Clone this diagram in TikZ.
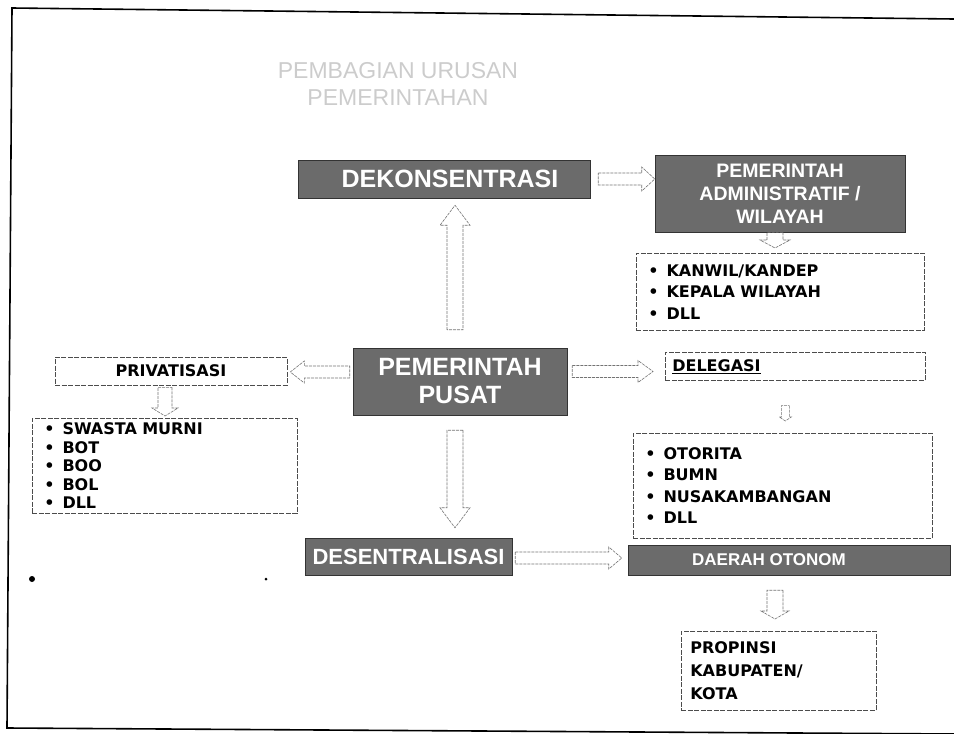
\documentclass[tikz,border=0pt]{standalone}
\usepackage{fontspec}
\setmainfont{DejaVu Sans}
\newfontfamily\bannerfont{Liberation Sans}
\usetikzlibrary{calc}

\tikzset{
  banner/.style={fill=black!58, draw=black!80, line width=0.5pt, text=white,
    font=\bannerfont\bfseries\fontsize{25}{28}\selectfont, align=center, inner sep=0pt},
  listbox/.style={draw=black!70, dash pattern=on 5pt off 1.5pt, line width=0.6pt,
    font=\bfseries\fontsize{16}{21.5}\selectfont, align=left,
    inner xsep=12pt, inner ysep=0pt, anchor=north west},
  arrowline/.style={draw=black!55, line width=0.6pt, dash pattern=on 3pt off 1pt,
    line join=miter},
  frame/.style={draw=black, line width=1.6pt},
  spot/.style={circle, fill=black, inner sep=0pt},
}

% Outlined block arrow from #1 to #2:
% #3 shaft half width, #4 head half width, #5 head length
\newcommand\hollowarrow[5]{%
  \coordinate (hbase) at ($(#2)!#5!(#1)$);
  \draw[arrowline]
    ($(#1)!#3!90:(#2)$) --
    ($(hbase)!#3!90:(#2)$) --
    ($(hbase)!#4!90:(#2)$) --
    (#2) --
    ($(hbase)!#4!-90:(#2)$) --
    ($(hbase)!#3!-90:(#2)$) --
    ($(#1)!#3!-90:(#2)$) -- cycle;}

\begin{document}
\begin{tikzpicture}[x=1pt,y=-1pt]
\useasboundingbox (0,0) rectangle (954,734);

% page frame
\draw[frame] (954,19) -- (12,8) -- (7,728) -- (954,734);

% heading
\node[font=\bannerfont\fontsize{23}{27}\selectfont, text=black!20, align=center]
  (title) at (398,84) {PEMBAGIAN URUSAN\\PEMERINTAHAN};

% shaded banners
\node[banner, minimum width=292pt, minimum height=38pt] (dek) at (444,179)
  {\hspace*{12pt}DEKONSENTRASI};
\node[banner, minimum width=250pt, minimum height=77pt,
  font=\bannerfont\bfseries\fontsize{19.5}{23}\selectfont] (adm) at (780,193.5)
  {PEMERINTAH\\ADMINISTRATIF /\\WILAYAH};
\node[banner, minimum width=214pt, minimum height=67pt] (pusat) at (460,381.5)
  {PEMERINTAH\\PUSAT};
\node[banner, minimum width=207pt, minimum height=37pt,
  font=\bannerfont\bfseries\fontsize{22}{26}\selectfont] (desent) at (408.5,556.5)
  {DESENTRALISASI};
\node[banner, minimum width=322pt, minimum height=30pt,
  font=\bannerfont\bfseries\fontsize{17}{20}\selectfont] (daerah) at (789,560)
  {\hspace*{-40pt}DAERAH OTONOM};

% dashed boxes
\node[listbox, minimum height=77pt, text width=264pt] (kanwil) at (636,253)
  {•\hspace{8pt}KANWIL/KANDEP\\•\hspace{8pt}KEPALA WILAYAH\\•\hspace{8pt}DLL};
\node[listbox, anchor=center, align=center, minimum width=232pt, minimum height=28pt]
  (priv) at (171,371) {PRIVATISASI};
\node[listbox, minimum height=28pt, inner xsep=7pt, text width=246pt] (deleg) at (665,352)
  {\underline{DELEGASI}};
\node[listbox, minimum height=95pt, text width=241pt,
  font=\bfseries\fontsize{16}{18.5}\selectfont] (swasta) at (32,418)
  {•\hspace{8pt}SWASTA MURNI\\•\hspace{8pt}BOT\\•\hspace{8pt}BOO\\•\hspace{8pt}BOL\\•\hspace{8pt}DLL};
\node[listbox, minimum height=105pt, text width=275pt] (otor) at (633,433)
  {•\hspace{8pt}OTORITA\\•\hspace{8pt}BUMN\\•\hspace{8pt}NUSAKAMBANGAN\\•\hspace{8pt}DLL};
\node[listbox, minimum height=79pt, inner xsep=9pt, text width=177pt,
  font=\bfseries\fontsize{16}{23}\selectfont] (prop) at (681,631)
  {PROPINSI\\KABUPATEN/\\KOTA};

% loose marks
\node[spot, minimum size=6pt] (m1) at (32,579) {};
\node[spot, minimum size=3pt] (m2) at (266,579) {};

% connectors
\coordinate (c1s) at ($(dek.east)+(8,0)$);
\coordinate (c1e) at (c1s -| adm.west);
\hollowarrow{c1s}{c1e}{6pt}{12pt}{13pt}

\coordinate (c2s) at ($(adm.south)+(-5,0)$);
\coordinate (c2e) at ($(c2s |- kanwil.north)+(0,-5)$);
\hollowarrow{c2s}{c2e}{8pt}{15pt}{8pt}

\coordinate (c3s) at ($(pusat.north)+(-5,-18)$);
\coordinate (c3e) at ($(c3s |- dek.south)+(0,7)$);
\hollowarrow{c3s}{c3e}{8pt}{15pt}{20pt}

\coordinate (c4s) at ($(pusat.west)+(-3,-9.5)$);
\coordinate (c4e) at ($(c4s -| priv.east)+(3,0)$);
\hollowarrow{c4s}{c4e}{6pt}{11pt}{14pt}

\coordinate (c5s) at ($(pusat.east)+(5,-10)$);
\coordinate (c5e) at ($(c5s -| deleg.west)+(-12,0)$);
\hollowarrow{c5s}{c5e}{6pt}{11pt}{15pt}

\coordinate (c6s) at ($(deleg.south)+(-10,25)$);
\coordinate (c6e) at ($(c6s |- otor.north)+(0,-12)$);
\hollowarrow{c6s}{c6e}{4pt}{6pt}{4pt}

\coordinate (c7s) at ($(priv.south)+(-6,2)$);
\coordinate (c7e) at ($(c7s |- swasta.north)+(0,-2)$);
\hollowarrow{c7s}{c7e}{7pt}{13pt}{8pt}

\coordinate (c8s) at ($(pusat.south)+(-5,15)$);
\coordinate (c8e) at ($(c8s |- desent.north)+(0,-10)$);
\hollowarrow{c8s}{c8e}{8pt}{15pt}{20pt}

\coordinate (c9s) at ($(desent.east)+(3,1.5)$);
\coordinate (c9e) at ($(c9s -| daerah.west)+(-6,0)$);
\hollowarrow{c9s}{c9e}{6pt}{11pt}{13pt}

\coordinate (c10s) at ($(daerah.south)+(-14,15)$);
\coordinate (c10e) at ($(c10s |- prop.north)+(0,-12)$);
\hollowarrow{c10s}{c10e}{8pt}{14pt}{8pt}
\end{tikzpicture}
\end{document}
